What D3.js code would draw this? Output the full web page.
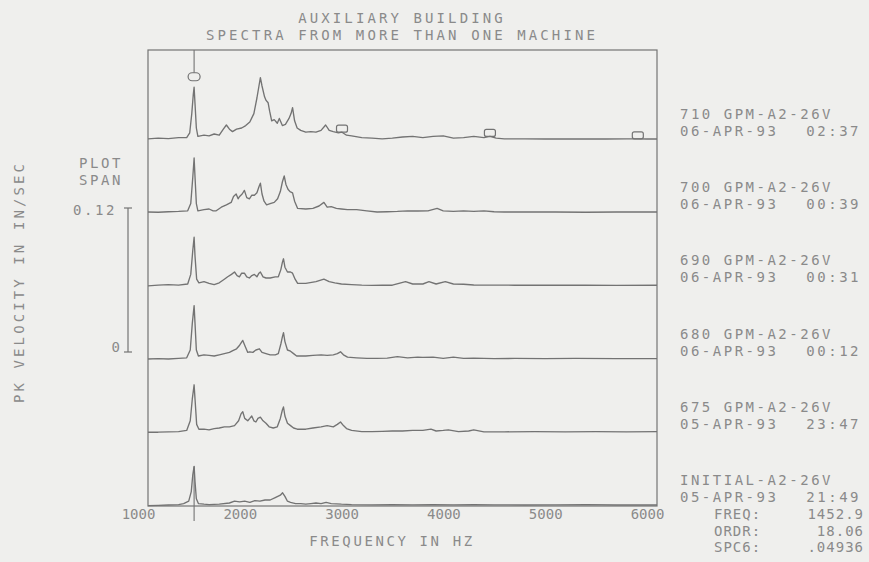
<!DOCTYPE html>
<html><head><meta charset="utf-8">
<script src="https://cdn.jsdelivr.net/npm/d3@7"></script>
<style>
html,body{margin:0;padding:0;background:#efefed;}
svg{display:block;}
text{font-family:"DejaVu Sans Mono",monospace;font-size:14px;fill:#8a8a8a;}
</style></head><body>
<svg id="chart" width="869" height="562"></svg>
<script>
// ---------------- data ----------------
const titleLines = ["AUXILIARY BUILDING", "SPECTRA FROM MORE THAN ONE MACHINE"];
const xTickValues = [1000, 2000, 3000, 4000, 5000, 6000];
const xTitle = "FREQUENCY IN HZ";
const yTitle = "PK VELOCITY IN IN/SEC";
const spanLabels = ["PLOT", "SPAN"];
const spanTicks = [0, 0.12];
const traceNames = ["710 GPM-A2-26V", "700 GPM-A2-26V", "690 GPM-A2-26V", "680 GPM-A2-26V", "675 GPM-A2-26V", "INITIAL-A2-26V"];
const traceDates = ["06-APR-93", "06-APR-93", "06-APR-93", "06-APR-93", "05-APR-93", "05-APR-93"];
const traceTimes = ["02:37", "00:39", "00:31", "00:12", "23:47", "21:49"];
const cursorFreq = 1452.9;
const cursorOrder = 18.06;
const cursorSpc = 0.04936;
const cursorFields = ["FREQ:", "ORDR:", "SPC6:"];
const cursorValues = ["1452.9", "18.06", ".04936"];
const harmonics = [1, 2, 3, 4];

// [frequency Hz, pk velocity in/sec]
const s710 = [[1000,0.001],[1100,0.0015],[1200,0.0012],[1300,0.002],[1380,0.002],[1410,0.006],[1430,0.022],[1445,0.038],[1453,0.044],[1462,0.03],[1475,0.01],[1490,0.003],[1550,0.004],[1600,0.0035],[1650,0.005],[1700,0.004],[1740,0.009],[1770,0.0125],[1800,0.009],[1830,0.007],[1870,0.009],[1920,0.01],[1960,0.012],[2000,0.015],[2040,0.022],[2070,0.035],[2090,0.045],[2104,0.052],[2120,0.045],[2145,0.036],[2160,0.033],[2180,0.031],[2195,0.024],[2215,0.016],[2240,0.017],[2270,0.014],[2290,0.018],[2320,0.012],[2350,0.013],[2385,0.018],[2405,0.022],[2420,0.027],[2440,0.016],[2465,0.01],[2500,0.008],[2550,0.0065],[2600,0.007],[2650,0.0065],[2700,0.008],[2745,0.0125],[2780,0.008],[2820,0.007],[2870,0.006],[2906,0.0065],[2950,0.004],[3000,0.0035],[3100,0.002],[3200,0.0015],[3300,0.001],[3400,0.0015],[3500,0.0025],[3600,0.003],[3700,0.002],[3800,0.003],[3900,0.0035],[4000,0.0015],[4100,0.002],[4200,0.003],[4300,0.002],[4359,0.003],[4420,0.0015],[4500,0.001],[4700,0.001],[4900,0.0008],[5100,0.001],[5300,0.0008],[5500,0.0008],[5700,0.001],[5812,0.001],[5900,0.0008],[6000,0.0008]];
const s700 = [[1000,0.001],[1100,0.0008],[1200,0.0012],[1300,0.0015],[1390,0.002],[1420,0.008],[1440,0.03],[1453,0.046],[1462,0.03],[1475,0.008],[1490,0.002],[1550,0.003],[1600,0.0035],[1640,0.002],[1670,0.002],[1720,0.005],[1770,0.007],[1817,0.009],[1840,0.014],[1866,0.016],[1885,0.012],[1900,0.014],[1925,0.016],[1947,0.019],[1970,0.013],[1996,0.012],[2020,0.015],[2045,0.015],[2070,0.017],[2090,0.022],[2104,0.025],[2120,0.016],[2140,0.01],[2165,0.007],[2200,0.008],[2240,0.009],[2273,0.012],[2300,0.018],[2320,0.026],[2338,0.031],[2355,0.024],[2375,0.02],[2395,0.018],[2420,0.017],[2440,0.01],[2470,0.004],[2550,0.0035],[2620,0.004],[2680,0.006],[2728,0.009],[2760,0.005],[2800,0.0055],[2850,0.004],[2900,0.0035],[2960,0.003],[3050,0.003],[3150,0.002],[3250,0.001],[3350,0.0012],[3450,0.0015],[3550,0.002],[3650,0.0018],[3750,0.002],[3840,0.004],[3900,0.002],[4000,0.0015],[4100,0.002],[4200,0.0015],[4300,0.002],[4400,0.0012],[4500,0.001],[4700,0.001],[5000,0.001],[5300,0.0008],[5600,0.001],[6000,0.001]];
const s690 = [[1000,0.0005],[1100,0.001],[1200,0.0015],[1300,0.001],[1390,0.002],[1420,0.01],[1440,0.03],[1453,0.041],[1462,0.025],[1478,0.006],[1500,0.003],[1550,0.004],[1600,0.0025],[1650,0.0015],[1700,0.003],[1750,0.006],[1783,0.008],[1820,0.01],[1850,0.012],[1875,0.009],[1898,0.008],[1920,0.011],[1947,0.011],[1970,0.008],[1996,0.007],[2020,0.009],[2045,0.01],[2070,0.008],[2090,0.011],[2104,0.012],[2130,0.008],[2159,0.007],[2200,0.007],[2250,0.008],[2280,0.008],[2305,0.014],[2320,0.02],[2331,0.023],[2345,0.016],[2370,0.012],[2400,0.012],[2420,0.011],[2445,0.006],[2470,0.0025],[2550,0.0025],[2650,0.004],[2728,0.006],[2780,0.004],[2835,0.003],[2900,0.002],[3000,0.0015],[3100,0.001],[3200,0.0008],[3300,0.001],[3400,0.001],[3530,0.004],[3600,0.002],[3700,0.002],[3760,0.004],[3830,0.002],[3920,0.004],[4000,0.002],[4100,0.0018],[4200,0.0012],[4400,0.001],[4600,0.001],[4800,0.001],[5000,0.001],[5300,0.001],[5600,0.0008],[6000,0.001]];
const s680 = [[1000,0.0005],[1100,0.0008],[1200,0.0005],[1300,0.001],[1380,0.0015],[1415,0.008],[1435,0.03],[1453,0.045],[1462,0.03],[1475,0.008],[1495,0.003],[1550,0.004],[1600,0.0035],[1650,0.003],[1700,0.004],[1750,0.005],[1800,0.006],[1833,0.0075],[1870,0.009],[1900,0.012],[1931,0.016],[1955,0.011],[1980,0.006],[2000,0.0065],[2030,0.006],[2060,0.008],[2094,0.009],[2120,0.006],[2159,0.005],[2200,0.004],[2250,0.004],[2280,0.005],[2305,0.013],[2320,0.019],[2331,0.0225],[2345,0.015],[2370,0.008],[2400,0.007],[2430,0.005],[2460,0.003],[2550,0.003],[2620,0.0035],[2700,0.004],[2760,0.0035],[2820,0.004],[2860,0.005],[2891,0.0065],[2920,0.004],[2960,0.002],[3050,0.0015],[3150,0.001],[3250,0.001],[3350,0.0012],[3450,0.0025],[3550,0.0015],[3650,0.002],[3700,0.0018],[3800,0.002],[3900,0.001],[4000,0.002],[4100,0.001],[4200,0.0012],[4400,0.0008],[4600,0.001],[4900,0.0008],[5200,0.001],[5600,0.0008],[6000,0.0008]];
const s675 = [[1000,0.0005],[1100,0.0005],[1200,0.0008],[1300,0.001],[1380,0.002],[1415,0.01],[1435,0.028],[1453,0.04],[1462,0.028],[1478,0.007],[1500,0.003],[1550,0.003],[1600,0.0025],[1650,0.0035],[1700,0.004],[1750,0.005],[1800,0.005],[1850,0.006],[1890,0.01],[1915,0.016],[1931,0.0175],[1950,0.012],[1980,0.01],[2000,0.012],[2019,0.014],[2040,0.01],[2060,0.009],[2080,0.012],[2104,0.013],[2130,0.01],[2159,0.008],[2190,0.005],[2230,0.004],[2270,0.005],[2300,0.012],[2320,0.019],[2331,0.0215],[2345,0.014],[2370,0.008],[2400,0.006],[2430,0.004],[2466,0.003],[2550,0.003],[2620,0.004],[2700,0.005],[2760,0.006],[2820,0.005],[2860,0.007],[2891,0.009],[2920,0.006],[2950,0.0035],[3000,0.002],[3100,0.001],[3200,0.001],[3300,0.0012],[3400,0.0015],[3500,0.0015],[3600,0.002],[3700,0.002],[3780,0.003],[3830,0.0015],[3900,0.002],[3950,0.0025],[4050,0.001],[4150,0.0015],[4200,0.0025],[4300,0.0008],[4500,0.0008],[4800,0.001],[5100,0.0008],[5400,0.001],[5700,0.0008],[6000,0.001]];
const sInitial = [[1000,0.0003],[1100,0.0005],[1200,0.0008],[1300,0.0012],[1350,0.002],[1400,0.004],[1425,0.012],[1440,0.026],[1453,0.033],[1462,0.02],[1475,0.006],[1495,0.002],[1550,0.0015],[1600,0.0012],[1700,0.0015],[1800,0.0025],[1850,0.004],[1900,0.0035],[1950,0.004],[2000,0.003],[2050,0.0045],[2100,0.004],[2150,0.005],[2200,0.005],[2250,0.007],[2300,0.009],[2322,0.011],[2345,0.008],[2370,0.004],[2400,0.003],[2450,0.002],[2500,0.002],[2550,0.0015],[2600,0.002],[2650,0.0025],[2700,0.002],[2750,0.003],[2800,0.002],[2900,0.0015],[3000,0.0012],[3200,0.001],[3400,0.0012],[3600,0.001],[3800,0.0012],[4000,0.001],[4200,0.0012],[4400,0.001],[4700,0.0008],[5000,0.001],[5300,0.0012],[5600,0.0008],[6000,0.0008]];
const seriesValues = [s710, s700, s690, s680, s675, sInitial];

// ---------------- drawing ----------------
const svg = d3.select("#chart");
const LINE = "#737373";
const frame = {left:148, right:657, top:50, bottom:506};

svg.append("rect").attr("width",869).attr("height",562).attr("fill","#efefed");

const x = d3.scaleLinear().domain([1000, 6000]).range([frame.left, frame.right]);
const base = d3.scalePoint().domain(traceNames).range([140, 506]);
const h = d3.scaleLinear().domain([0, 0.12]).range([0, 144]);
const spanY = d3.scaleLinear().domain([0, 0.12]).range([352, 208]);

function txt(sel, s, px, py, anchor, ls){
  return sel.append("text").attr("x", px).attr("y", py + 5)
    .attr("text-anchor", anchor || "start")
    .style("letter-spacing", (ls||0) + "px").text(s);
}

// frame
svg.append("rect").attr("x",frame.left).attr("y",frame.top)
  .attr("width",frame.right-frame.left).attr("height",frame.bottom-frame.top)
  .attr("fill","none").attr("stroke",LINE).attr("stroke-width",1.2);

// title
titleLines.forEach((t,i)=>txt(svg, t, 402, 18 + i*17, "middle", 3.1));

// x axis labels
const xAxis = d3.axisBottom(x).tickValues(xTickValues).tickSize(0).tickFormat(d3.format("d"));
const gx = svg.append("g").attr("transform",`translate(-10,${frame.bottom})`).call(xAxis);
gx.select(".domain").remove();
gx.selectAll("text").attr("y", 13).attr("dy", 0).style("font-family","\"DejaVu Sans Mono\",monospace")
  .style("font-size","14px").attr("fill","#8a8a8a");
txt(svg, xTitle, 392, 541, "middle", 2.6);

// y title
svg.append("text").attr("transform","translate(24,282) rotate(-90)")
  .attr("text-anchor","middle").style("letter-spacing","3.1px").text(yTitle);

// plot span bar
spanLabels.forEach((t,i)=>txt(svg, t, 101, 163 + i*17, "middle", 2.6));
svg.append("line").attr("x1",128).attr("x2",128)
  .attr("y1",spanY(spanTicks[0])).attr("y2",spanY(spanTicks[1]))
  .attr("stroke",LINE).attr("stroke-width",1.2);
spanTicks.forEach(v=>{
  svg.append("line").attr("x1",124).attr("x2",132).attr("y1",spanY(v)).attr("y2",spanY(v))
    .attr("stroke",LINE).attr("stroke-width",1.2);
});
txt(svg, "0.12", 117, spanY(0.12)+2, "end", 2.6);
txt(svg, "0", 120, spanY(0)-5, "end", 0);

// traces
const lineGen = (name)=>d3.line().x(d=>x(d[0])).y(d=>base(name) - h(d[1]));
traceNames.forEach((name,i)=>{
  svg.append("path").datum(seriesValues[i]).attr("d", lineGen(name)(seriesValues[i]))
    .attr("fill","none").attr("stroke",LINE).attr("stroke-width",1.35).attr("stroke-linejoin","round");
  txt(svg, name, 680, base(name) - 26, "start", 2.5);
  txt(svg, traceDates[i], 680, base(name) - 9, "start", 2.5);
  txt(svg, traceTimes[i], 861, base(name) - 9, "end", 2.5);
});

// harmonic markers on the top trace
const bis = d3.bisector(d=>d[0]).left;
function valueAt(arr, f){
  const j = Math.max(1, bis(arr, f));
  const a = arr[j-1], b = arr[j];
  const t = (f - a[0]) / (b[0] - a[0]);
  return a[1] + t*(b[1]-a[1]);
}
const topName = traceNames[0];
harmonics.forEach(k=>{
  const f = k*cursorFreq, cx = x(f);
  if (k === 1) {
    const cy = base(topName) - h(cursorSpc) - 4;
    svg.append("rect").attr("x",cx-6).attr("y",cy-4).attr("width",12).attr("height",8).attr("rx",4)
      .attr("fill","none").attr("stroke",LINE).attr("stroke-width",1.2);
    svg.append("line").attr("x1",cx).attr("x2",cx).attr("y1",frame.top).attr("y2",cy-4)
      .attr("stroke",LINE).attr("stroke-width",1.1);
  } else {
    const ly = base(topName) - h(valueAt(s710, f));
    svg.append("rect").attr("x",cx-5.5).attr("y",ly-7).attr("width",11).attr("height",7).attr("rx",2)
      .attr("fill","none").attr("stroke",LINE).attr("stroke-width",1.2);
  }
});
// cursor line on the bottom trace
const botName = traceNames[traceNames.length-1];
svg.append("line").attr("x1",x(cursorFreq)).attr("x2",x(cursorFreq))
  .attr("y1",base(botName) - h(valueAt(sInitial, cursorFreq))).attr("y2",521)
  .attr("stroke",LINE).attr("stroke-width",1.1);

// cursor readout
cursorFields.forEach((t,i)=>{
  txt(svg, t, 714, 514 + i*16.5, "start", 1);
  txt(svg, cursorValues[i], 864, 514 + i*16.5, "end", 1);
});
</script>
</body></html>
